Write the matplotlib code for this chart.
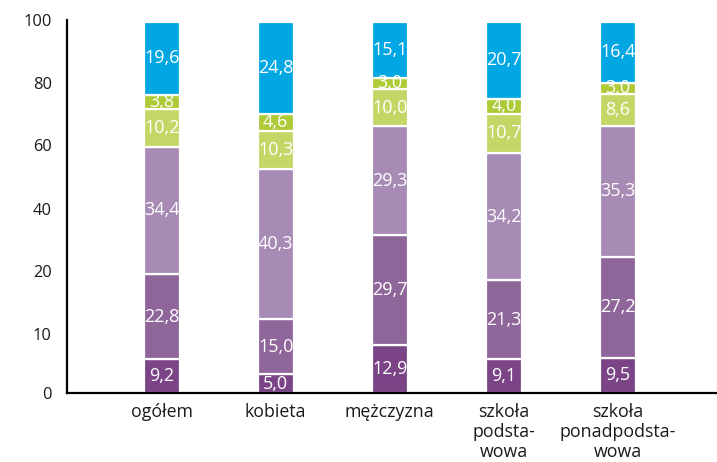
import matplotlib
matplotlib.use("Agg")
import matplotlib.pyplot as plt
import numpy as np

plt.rcParams['font.family'] = ['Open Sans', 'DejaVu Sans']

categories = ["ogółem", "kobieta", "mężczyzna", "szkoła\npodsta-\nwowa", "szkoła\nponadpodsta-\nwowa"]
s1 = [9.2, 5.0, 12.9, 9.1, 9.5]
s2 = [22.8, 15.0, 29.7, 21.3, 27.2]
s3 = [34.4, 40.3, 29.3, 34.2, 35.3]
s4 = [10.2, 10.3, 10.0, 10.7, 8.6]
s5 = [3.8, 4.6, 3.0, 4.0, 3.0]
s6 = [19.6, 24.8, 15.1, 20.7, 16.4]
series = [s1, s2, s3, s4, s5, s6]
colors = ["#7A4487", "#8E6699", "#A78BB5", "#C4D666", "#AECA36", "#00A7E3"]

tick_pos = [0, 15.8, 32.8, 49.7, 66.7, 83.6, 100.5]
tick_labels = ["0", "10", "20", "40", "60", "80", "100"]

fig = plt.figure(figsize=(7.17, 4.62), dpi=100)
ax = fig.add_axes([67/717, 1 - 393/462, (717 - 67)/717, 373/462])

x = np.arange(len(categories))
bottom = np.zeros(len(categories))
for vals, col in zip(series, colors):
    bars = ax.bar(x, vals, bottom=bottom, width=0.315, color=col,
                  edgecolor="white", linewidth=1.6)
    for b, v, bt in zip(bars, vals, bottom):
        t = ax.text(b.get_x() + b.get_width() / 2, bt + v / 2,
                    f"{v:.1f}".replace(".", ","), ha="center", va="center",
                    color="white", fontsize=13)
        t.set_clip_path(b)
    bottom += np.array(vals)

ax.set_xlim(-0.83, 4.87)
ax.set_ylim(0, 100)
ax.set_xticks(x)
ax.set_xticklabels(categories, fontsize=12.8, linespacing=1.15, color="#1a1a1a")
ax.set_yticks(tick_pos)
ax.set_yticklabels(tick_labels, fontsize=11.8, color="#1a1a1a")
ax.tick_params(axis="both", length=0)
ax.tick_params(axis="x", pad=7)
ax.tick_params(axis="y", pad=11)
for s in ["top", "right"]:
    ax.spines[s].set_visible(False)
ax.spines["left"].set_linewidth(1.6)
ax.spines["bottom"].set_linewidth(1.6)

fig.savefig("out.png", dpi=100)
